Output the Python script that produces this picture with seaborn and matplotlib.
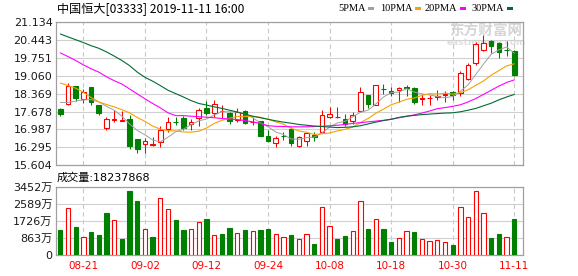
import matplotlib
matplotlib.use("Agg")
import matplotlib.pyplot as plt
import seaborn as sns
import pandas as pd
from matplotlib.patches import Rectangle

# ---------------- data ----------------
dates = ['08-16', '08-19', '08-20', '08-21', '08-22', '08-23', '08-26', '08-27', '08-28', '08-29',
         '08-30', '09-02', '09-03', '09-04', '09-05', '09-06', '09-09', '09-10', '09-11', '09-12',
         '09-13', '09-16', '09-17', '09-18', '09-19', '09-20', '09-23', '09-24', '09-25', '09-26',
         '09-27', '09-30', '10-02', '10-03', '10-04', '10-08', '10-09', '10-10', '10-11', '10-14',
         '10-15', '10-16', '10-17', '10-18', '10-21', '10-22', '10-23', '10-24', '10-25', '10-28',
         '10-29', '10-30', '10-31', '11-01', '11-04', '11-05', '11-06', '11-07', '11-08', '11-11']

opens = [17.79, 17.97, 18.65, 18.15, 18.62, 17.92, 17.03, 17.36, 17.33, 17.41,
         16.61, 16.41, 16.37, 16.51, 16.99, 17.28, 17.42, 17.19, 17.43, 17.83,
         17.63, 17.69, 17.63, 17.37, 17.69, 17.26, 17.30, 16.73, 16.45, 16.74,
         17.00, 16.36, 16.55, 16.78, 16.90, 17.45, 17.46, 17.41, 17.32, 17.70,
         18.30, 17.95, 18.56, 18.49, 18.50, 18.62, 18.60, 18.16, 18.19, 18.25,
         18.32, 18.43, 18.40, 18.94, 19.54, 20.06, 20.42, 20.34, 20.07, 20.03]
highs = [17.80, 18.78, 18.66, 18.55, 18.63, 17.93, 17.45, 17.72, 17.70, 17.54,
         16.62, 16.64, 16.70, 17.11, 17.47, 17.45, 17.50, 17.40, 17.83, 18.07,
         18.11, 17.92, 17.65, 17.83, 17.74, 17.45, 17.31, 16.96, 16.75, 16.90,
         17.08, 16.75, 16.90, 16.90, 17.75, 17.86, 17.86, 17.60, 17.66, 18.62,
         18.33, 18.70, 18.75, 18.63, 18.63, 18.71, 18.62, 18.34, 18.32, 18.50,
         18.46, 18.47, 19.26, 19.55, 20.35, 20.65, 20.44, 20.37, 20.39, 20.05]
lows = [17.51, 17.93, 18.08, 18.02, 17.92, 17.56, 16.97, 17.28, 17.32, 16.24,
        16.08, 16.09, 16.36, 16.32, 16.89, 17.15, 16.96, 16.96, 17.11, 17.55,
        17.45, 17.43, 17.18, 17.26, 17.20, 17.15, 16.72, 16.49, 16.32, 16.58,
        16.36, 16.30, 16.35, 16.56, 16.86, 17.43, 17.44, 17.13, 17.20, 17.66,
        17.83, 17.92, 18.34, 18.28, 18.05, 18.27, 17.98, 17.92, 17.92, 18.11,
        18.03, 18.13, 18.28, 18.89, 19.46, 20.00, 19.93, 19.75, 19.84, 19.06]
closes = [17.60, 18.65, 18.20, 18.42, 18.05, 17.62, 17.38, 17.40, 17.37, 16.35,
          16.24, 16.54, 16.42, 16.98, 17.28, 17.26, 17.04, 17.28, 17.75, 17.63,
          17.98, 17.71, 17.30, 17.66, 17.23, 17.28, 16.74, 16.55, 16.64, 16.72,
          16.47, 16.68, 16.86, 16.70, 17.56, 17.58, 17.48, 17.20, 17.54, 18.45,
          17.98, 18.69, 18.53, 18.39, 18.57, 18.60, 18.05, 18.19, 18.21, 18.27,
          18.35, 18.30, 19.16, 19.48, 20.28, 20.33, 20.22, 19.97, 20.05, 19.08]

# volume in 万 shares
volumes = [1263, 2358, 1415, 893, 1162, 1010, 2122, 1751, 808, 3233,
           2728, 1297, 909, 2863, 2307, 1768, 1263, 1297, 1650, 1819,
           994, 1061, 1364, 1095, 1263, 1196, 1263, 1314, 1044, 909,
           1010, 791, 1044, 556, 2408, 1448, 808, 960, 1196, 2711,
           1314, 1802, 1314, 657, 842, 1196, 1162, 791, 690, 741,
           640, 505, 2408, 1903, 3216, 2105, 859, 1061, 909, 1823.7868]

ma5 = [18.03, 18.03, 18.08, 18.13, 18.14, 18.05, 17.88, 17.73, 17.50, 17.20,
       16.95, 16.78, 16.58, 16.51, 16.69, 16.90, 17.00, 17.17, 17.32, 17.39,
       17.54, 17.67, 17.67, 17.66, 17.58, 17.44, 17.24, 17.09, 16.89, 16.79,
       16.62, 16.61, 16.67, 16.69, 16.85, 17.08, 17.24, 17.30, 17.47, 17.65,
       17.73, 17.97, 18.24, 18.41, 18.43, 18.56, 18.43, 18.36, 18.32, 18.26,
       18.21, 18.26, 18.46, 18.71, 19.11, 19.51, 19.89, 20.06, 20.17, 19.93]
ma10 = [18.78, 18.68, 18.58, 18.42, 18.22, 18.05, 17.95, 17.86, 17.75, 17.63,
        17.45, 17.30, 17.12, 17.00, 16.94, 16.93, 16.89, 16.88, 16.92, 17.04,
        17.22, 17.34, 17.42, 17.49, 17.49, 17.49, 17.46, 17.38, 17.28, 17.19,
        17.03, 16.93, 16.88, 16.79, 16.82, 16.85, 16.93, 16.99, 17.08, 17.25,
        17.41, 17.61, 17.77, 17.94, 18.04, 18.15, 18.20, 18.30, 18.37, 18.35,
        18.39, 18.35, 18.41, 18.52, 18.69, 18.86, 19.08, 19.26, 19.44, 19.52]
ma20 = [19.94, 19.80, 19.65, 19.48, 19.33, 19.20, 19.02, 18.87, 18.74, 18.55,
        18.36, 18.17, 17.99, 17.82, 17.63, 17.52, 17.52, 17.50, 17.48, 17.46,
        17.44, 17.41, 17.39, 17.37, 17.33, 17.28, 17.22, 17.13, 17.11, 17.10,
        17.09, 17.09, 17.09, 17.10, 17.11, 17.13, 17.15, 17.18, 17.22, 17.25,
        17.28, 17.31, 17.34, 17.38, 17.44, 17.49, 17.55, 17.62, 17.70, 17.79,
        17.83, 17.88, 17.94, 18.05, 18.18, 18.34, 18.50, 18.66, 18.80, 18.90]
ma30 = [20.67, 20.56, 20.45, 20.34, 20.22, 20.12, 19.98, 19.82, 19.65, 19.45,
        19.20, 19.00, 18.85, 18.68, 18.50, 18.37, 18.24, 18.10, 17.99, 17.93,
        17.86, 17.80, 17.73, 17.66, 17.58, 17.50, 17.44, 17.38, 17.32, 17.27,
        17.23, 17.18, 17.15, 17.12, 17.10, 17.08, 17.06, 17.07, 17.09, 17.13,
        17.20, 17.27, 17.33, 17.38, 17.45, 17.50, 17.53, 17.56, 17.58, 17.60,
        17.62, 17.63, 17.67, 17.73, 17.80, 17.90, 18.00, 18.13, 18.24, 18.34]

price_ticks = [15.604, 16.295, 16.987, 17.678, 18.369, 19.060, 19.751, 20.443, 21.134]
vol_ticks = [0, 863, 1726, 2589, 3452]
vol_tick_labels = ['0', '863万', '1726万', '2589万', '3452万']
date_ticks = ['08-21', '09-02', '09-12', '09-24', '10-08', '10-18', '10-30', '11-11']
title = "中国恒大[03333] 2019-11-11 16:00"
ma_labels = ['5PMA', '10PMA', '20PMA', '30PMA']
ma_colors = ['#a0a0a0', '#f5a300', '#ff00ff', '#006b35']

# ---------------- figure ----------------
W, H = 578, 276
sns.set_theme(style='white')
plt.rcParams['font.family'] = ['DejaVu Sans', 'Noto Sans CJK SC']
plt.rcParams['axes.unicode_minus'] = False

fig = plt.figure(figsize=(W / 100, H / 100), dpi=100)
fig.patch.set_facecolor('white')


def rect(x0, y0, x1, y1):
    return [x0 / W, 1 - y1 / H, (x1 - x0) / W, (y1 - y0) / H]


def fx(x):
    return x / W


def fy(y):
    return 1 - y / H


ax = fig.add_axes(rect(56, 22, 522.5, 165.3))
axv = fig.add_axes(rect(56, 186.7, 522.5, 255))

df = pd.DataFrame({'i': range(len(dates)), 'date': dates, 'open': opens, 'high': highs,
                   'low': lows, 'close': closes, 'vol': volumes,
                   'ma5': ma5, 'ma10': ma10, 'ma20': ma20, 'ma30': ma30})

RED = '#ff0000'
GREEN = '#008000'
bw = 0.6

# candles
for r in df.itertuples():
    up = r.close >= r.open
    col = RED if up else GREEN
    lo_b, hi_b = min(r.open, r.close), max(r.open, r.close)
    ax.vlines(r.i, r.low, lo_b, color=col, lw=0.75, zorder=3)
    ax.vlines(r.i, hi_b, r.high, color=col, lw=0.75, zorder=3)
    ax.bar(r.i, hi_b - lo_b, bottom=lo_b, width=bw,
           facecolor='white' if up else GREEN, edgecolor=col, linewidth=0.8, zorder=3)

# moving averages
for key, c in zip(['ma5', 'ma10', 'ma20', 'ma30'], ma_colors):
    sns.lineplot(data=df, x='i', y=key, ax=ax, color=c,
                 linewidth=0.7 if key == 'ma5' else 0.8, zorder=4)

# volume bars: red if close rose vs previous close
prev_close = [opens[0]] + closes[:-1]
for r, pc in zip(df.itertuples(), prev_close):
    up = r.close > pc
    axv.bar(r.i, r.vol, width=0.56, facecolor='white' if up else GREEN,
            edgecolor=RED if up else GREEN, linewidth=0.8, zorder=3)

xpos = [dates.index(d) for d in date_ticks]
for a in (ax, axv):
    a.set_xlim(-0.56, 60.07)
    a.set_xlabel('')
    a.set_ylabel('')
    a.set_xticks(xpos)
    a.grid(axis='y', color='#d0d0d0', linewidth=0.8, linestyle='-')
    a.grid(axis='x', color='#c8c8c8', linewidth=0.8, linestyle=(0, (4, 3)))
    a.set_axisbelow(True)
    a.tick_params(length=0)
    for s in a.spines.values():
        s.set_color('#a0a0a0')
        s.set_linewidth(0.9)
    a.set_facecolor('white')

ax.set_ylim(price_ticks[0], price_ticks[-1])
ax.set_yticks(price_ticks)
ax.set_yticklabels([f'{v:.3f}' for v in price_ticks], fontsize=8, color='#1a1a1a')
ax.tick_params(axis='y', pad=2.5)
ax.tick_params(axis='x', labelbottom=False)

axv.set_ylim(vol_ticks[0], vol_ticks[-1])
axv.set_yticks(vol_ticks)
axv.set_yticklabels(vol_tick_labels, fontsize=8, color='#1a1a1a')
axv.tick_params(axis='y', pad=2.5)
axv.set_xticklabels(date_ticks, fontsize=7.5, color=RED)
axv.tick_params(axis='x', pad=4)

# watermark
ax.text(fx(486), fy(31), '东方财富网', transform=fig.transFigure, ha='center', va='center',
        fontsize=10.5, fontweight='bold', color='#d6d6d6', family=['Noto Sans CJK SC'], zorder=0.5)
ax.text(fx(486), fy(42.5), 'eastmoney.com', transform=fig.transFigure, ha='center', va='center',
        fontsize=6.5, fontweight='bold', color='#dedede', zorder=0.5)

# title
fig.text(fx(57), fy(9), title, ha='left', va='center', fontsize=8.7,
         family=['Noto Sans CJK SC', 'DejaVu Sans'], color='#000000')

# MA legend
leg_text_x = [338, 380, 425, 472]
for lab, c, x in zip(ma_labels, ma_colors, leg_text_x):
    fig.text(fx(x), fy(8.5), lab, ha='left', va='center', fontsize=7.5,
             family=['Liberation Serif'], color='#000000')
fig.canvas.draw()
renderer = fig.canvas.get_renderer()
for t, c in zip(fig.texts[1:], ma_colors):
    bb = t.get_window_extent(renderer)
    x_end = bb.x1 + 2.5
    fig.patches.append(Rectangle((x_end / W, fy(10)), 5.5 / W, 3.2 / H,
                                 transform=fig.transFigure, facecolor=c, edgecolor='none'))

# volume caption
fig.text(fx(57), fy(177.3), f'成交量:{round(volumes[-1] * 10000)}', ha='left', va='center',
         fontsize=8, color='#000000')

fig.savefig('out.png', dpi=100, facecolor='white')
